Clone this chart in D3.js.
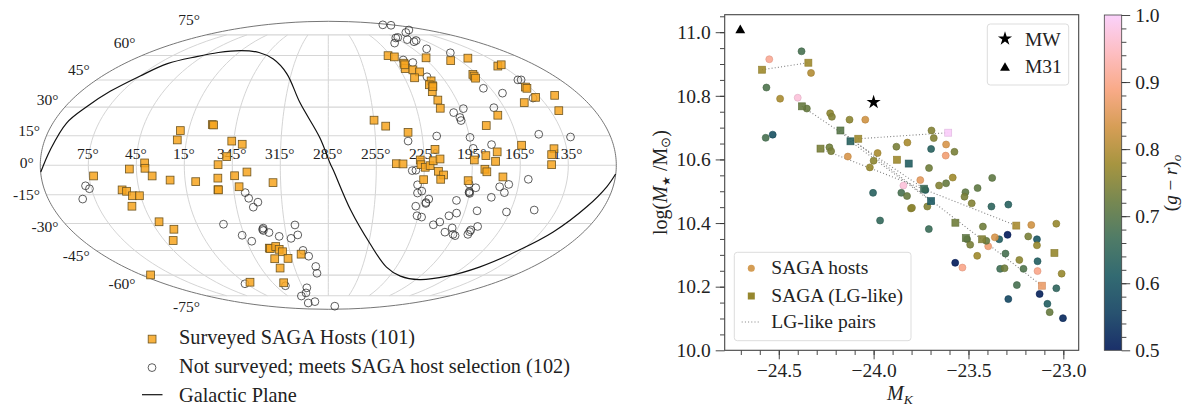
<!DOCTYPE html>
<html>
<head>
<meta charset="utf-8">
<script src="https://cdn.jsdelivr.net/npm/d3@7"></script>
<style>
  html, body { margin: 0; padding: 0; background: #fff; }
  text { font-family: "Liberation Serif", serif; fill: #222; }
</style>
</head>
<body>
<svg id="chart" width="1200" height="417"></svg>
<script>
/* ============================
   DATA: SKY MAP (degrees)
============================ */
const surveyedRA = [72.1,49.4,39.8,39.6,35.4,24.4,8.4,20.3,20.9,0.6,359.7,346.2,339.4,348.6,353.9,354.3,343.7,335.9,319.8,341.4,355,354.7,55.8,53.2,50.2,45.8,53,40,32.7,38.7,96.3,330.1,329.4,324.8,322.8,320.8,329,318,306.6,328,333.2,8.8,
  227.4,222.3,218,220.1,214.4,210.1,217.1,193.2,173.6,154.4,168.5,168.9,169.4,138.8,134.1,205.7,208.8,206.7,209.4,208.2,208.8,138.2,138.1,138,149,123.1,129.3,172,182.3,254.9,247.7,233.8,217.9,163,143,145,145.4,179,186.3,193.7,180.4,242.5,238.3,227.5,227.1,224.4,221.4,219.4,215.1,216.1,212.8,214.4,225.1,197.1,187.1,185.8,175.5,218.3,207];
const surveyedDec = [-5.4,-1.9,1.2,-1.5,-5.4,-7.5,-8.3,17.7,12.9,20.8,20.6,12.3,10.7,4.4,0.3,-6.5,-5.3,-3.4,-8.8,-10.9,-12.4,-12.5,-12.5,-13.2,-15.5,-15.5,-20.9,-29.1,-33.1,-39.3,-59.9,-43.6,-43.8,-42.7,-44.3,-45.7,-49.8,-49.6,-47.1,-55.5,-65.2,-64.8,
  59.9,59.1,55.1,51.8,51,49.8,46.3,58.5,56.7,58.3,48.3,47.3,46.1,53.3,54.1,44.5,42.3,41.7,38.4,33.8,29.4,41,40.3,35.3,32.4,36.4,28.1,25.7,20.3,23.1,20,16.8,8.1,10.2,8.4,5.4,0.3,6.8,4.9,2.7,2,0.8,0.7,2.7,0.3,-1,-0.2,2.3,3.2,-3,-4.9,-7.1,-7.3,-7.8,-2,-3.3,-5.9,54.1,41.2];

const otherRA = [78.3,76.3,82.9,337.9,336.1,330.5,334,356.8,346.6,341.3,330.2,330.5,326.9,320.3,307.9,306.8,312,304.6,300.8,296,295.7,16.6,333.9,310.5,315.1,325.1,327.8,311,265.4,
  130.3,117,138,159.5,190.5,194.6,206.6,183.8,175,180.6,180.5,162.8,216.4,209.6,206.8,137.8,135.3,170.3,159.2,140.3,193.2,200.8,197.8,197.7,172.1,150.3,130.6,215.8,234.4,194.7,181.9,193.8,232.5,230.2,228.7,225.6,228.2,191.7,195.4,195.3,194.9,176.7,171.2,172.9,180.5,159.4,202.4,220.4,221.8,221.8,228,
  200,204.5,187,167.3,149.6,225.8,222.5,212.9,209.2,199,202.7,196.2,194.2,181.9,185.3,185.5,185.6,196.2,330.9];
const otherDec = [-10.4,-11.9,-17.2,-13.9,-16.8,-18.8,-21.4,-30.4,-36.4,-39.7,-32.5,-33.8,-34.9,-37,-30.8,-36.2,-38.1,-44.9,-48.3,-54.5,-58.8,-65.9,-67.3,-68.8,-72.7,-75.2,-81.5,-80.2,-85,
  84.5,84,79.2,77,72.9,72.5,68.6,71.2,70.5,69.6,64.5,61.8,57.1,55.5,46.9,45.1,45.1,40.3,37.6,34.9,29.2,27.1,24.5,22.9,29.7,15.8,14.4,14.9,12.3,14.2,10.5,8.6,-2.7,-2.5,-9.9,-13.1,-14.1,-11.4,-13.9,-13.4,-14.3,-10.9,-9.7,-13.9,-16.3,-7.1,-17.9,-17.2,-19,-19.5,-20.9,
  -24.5,-25.9,-23.3,-23.9,-22.9,-25.9,-26.6,-30.7,-29.2,-32.4,-34.7,-35.9,-36.6,-31.6,-33.5,-34.4,-35.9,-9.5,-33.2];

const planeRA = [104.9,99.8,96.1,90.3,83.9,74.9,66.9,50.4,35.5,15.5,354.7,335.9,318.7,304.6,290.3,283.9,281.9,270.3,254,233.6,214.4,191.4,168.4,151.5,137.4,126.4,116.3,109,105.1];
const planeDec = [-3.4,7.8,21.6,30.2,38.6,47.4,54.8,59.3,62,63.3,62,57.7,48.8,32.3,13.9,1,-2.4,-22.9,-41,-54.9,-60.7,-63,-60.7,-54.9,-44.7,-34.6,-21.2,-10.9,-4.4];

const raTicks = [75,45,15,345,315,285,255,225,195,165,135];
const decTicks = [75,60,45,30,15,0,-15,-30,-45,-60,-75];
const gridLon = [-150,-120,-90,-60,-30,0,30,60,90,120,150];

/* ============================
   DATA: MASS PANEL
============================ */
const hostMK = [-24.55,-24.38,-24.33,-24.565,-24.493,-24.40,-24.352,-24.229,-24.22,-24.127,-24.044,-24.569,-24.532,-24.233,-24.224,-24.136,-23.979,-24.0,-24.02,-24.003,
  -23.695,-23.683,-23.88,-23.822,-23.697,-23.618,-23.574,-23.62,-23.708,-23.754,-23.843,-23.583,-23.655,-23.618,-23.375,-23.452,-23.854,-23.824,-23.727,-23.516,-23.521,
  -23.803,-23.798,-23.717,-23.483,-23.379,-23.29,-23.037,-23.169,-23.424,-23.966,-23.709,-23.185,-23.139,-23.139,-23.294,-23.338,-23.361,-23.396,-23.406,-23.507,-23.491,-23.454,-23.305,-23.232,-23.136,-23.57,-23.532,-23.333,-23.31,-23.21,-23.136,-23.009,-23.245,-23.125,-23.037,-23.29,-23.084,-23.072,-23.002];
const hostMass = [10.915,10.94,10.872,10.826,10.791,10.794,10.76,10.745,10.734,10.725,10.725,10.668,10.678,10.638,10.626,10.609,10.62,10.596,10.575,10.495,
  10.691,10.667,10.64,10.653,10.633,10.647,10.624,10.612,10.573,10.535,10.518,10.543,10.518,10.525,10.542,10.51,10.495,10.485,10.504,10.497,10.483,
  10.446,10.448,10.452,10.462,10.452,10.458,10.398,10.394,10.389,10.408,10.381,10.358,10.349,10.33,10.363,10.349,10.355,10.327,10.344,10.349,10.332,10.297,10.304,10.284,10.28,10.275,10.26,10.256,10.258,10.256,10.249,10.241,10.205,10.177,10.195,10.161,10.146,10.12,10.101];
const hostColor = [0.91,0.68,0.8,0.69,0.79,0.97,0.72,0.76,0.75,0.76,0.83,0.68,0.59,0.73,0.74,0.84,0.79,0.76,0.77,0.63,
  0.75,0.75,0.74,0.79,0.63,0.84,0.74,0.88,0.73,0.86,0.97,0.78,0.75,0.72,0.71,0.71,0.68,0.72,0.62,0.71,0.74,
  0.76,0.76,0.75,0.75,0.64,0.63,0.77,0.83,0.73,0.65,0.66,0.74,0.6,0.77,0.5,0.62,0.84,0.88,0.72,0.71,0.74,0.78,0.68,0.76,0.62,0.5,0.9,0.67,0.73,0.69,0.9,0.77,0.68,0.51,0.64,0.57,0.62,0.72,0.52];

const lgMK = [-24.588,-24.344,-24.378,-24.175,-24.122,-24.081,-24.28,-23.607,-23.877,-23.815,-23.734,-23.697,-23.569,-23.514,-23.428,-23.248,-23.047,-23.113];
const lgMass = [10.882,10.904,10.767,10.691,10.657,10.665,10.634,10.684,10.599,10.587,10.508,10.469,10.401,10.353,10.349,10.392,10.306,10.203];
const lgColor = [0.78,0.78,0.72,0.7,0.63,0.78,0.74,1.0,0.78,0.62,0.66,0.61,0.73,0.71,0.75,0.79,0.77,0.87];
// indexes into the lg arrays, drawn as dotted pairs
const pairFrom = [0,2,3,4,5,6];
const pairTo = [1,10,17,11,7,15];

const refMK = [-24.0,-24.703];
const refMass = [10.78,11.006];
const refNames = ["MW","M31"];

const batlowStops = ["#011959","#103F60","#1C5A62","#3C6D56","#687B3E","#9D892B","#D29343","#F8A17B","#FDB7BC","#FACCFA"];

const svg = d3.select("#chart");

/* ============================
   MOLLWEIDE MAP
============================ */
function mollTheta(latDeg) {
  const phi = latDeg * Math.PI / 180;
  if (Math.abs(latDeg) >= 90) return Math.sign(latDeg) * Math.PI / 2;
  let t = phi;
  for (let i = 0; i < 40; i++) {
    t -= (2 * t + Math.sin(2 * t) - Math.PI * Math.sin(phi)) / (2 + 2 * Math.cos(2 * t));
  }
  return t;
}
const mapX = d3.scaleLinear().domain([-1, 1]).range([40.3, 616.3]);
const mapY = d3.scaleLinear().domain([-1, 1]).range([309.3, 21.3]);

const projLon = (l, lat) => mapX((l / 180) * Math.cos(mollTheta(lat)));
const projLat = lat => mapY(Math.sin(mollTheta(lat)));
const raOffset = ra => ((285 - ra + 540) % 360) - 180;
const projRA = (ra, dec) => projLon(raOffset(ra), dec);

const map = svg.append("g");

const gridLine = d3.line().x(d => d[0]).y(d => d[1]);

// meridians stop at +-75, as in the figure
const capLat = d3.range(-75, 75.1, 2.5);
map.selectAll(".meridian").data(gridLon).join("path")
  .attr("class", "meridian")
  .attr("fill", "none").attr("stroke", "#cfcfcf").attr("stroke-width", 0.9)
  .attr("d", l => gridLine(capLat.map(lat => [projLon(l, lat), projLat(lat)])));

map.selectAll(".parallel").data(decTicks).join("line")
  .attr("class", "parallel")
  .attr("x1", d => projLon(-180, d)).attr("x2", d => projLon(180, d))
  .attr("y1", d => projLat(d)).attr("y2", d => projLat(d))
  .attr("stroke", "#d6d6d6").attr("stroke-width", 1.1);

// outline
const allLat = d3.range(-90, 90.1, 1);
map.append("path")
  .attr("fill", "none").attr("stroke", "#666").attr("stroke-width", 0.9)
  .attr("d", gridLine(allLat.map(lat => [projLon(-180, lat), projLat(lat)])
    .concat(allLat.slice().reverse().map(lat => [projLon(180, lat), projLat(lat)]))) + "Z");

// tick labels
map.selectAll(".raLabel").data(raTicks).join("text")
  .attr("class", "raLabel")
  .attr("x", d => projLon(raOffset(d), 0) - 0.5)
  .attr("y", 158.5)
  .attr("text-anchor", "middle")
  .attr("font-size", 15.5)
  .text(d => d + "°");

map.selectAll(".decLabel").data(decTicks).join("text")
  .attr("class", "decLabel")
  .attr("x", d => projLon(-180, d) - 6.5)
  .attr("y", d => projLat(d) - 2 - 0.175 * d + 5)
  .attr("text-anchor", "end")
  .attr("font-size", 15.5)
  .text(d => d + "°");

// galactic plane
const planeLine = d3.line().curve(d3.curveCatmullRom.alpha(0.5))
  .x((d, i) => projRA(planeRA[i], d))
  .y(d => projLat(d));
map.append("path").datum(planeDec)
  .attr("fill", "none").attr("stroke", "#111").attr("stroke-width", 1.2)
  .attr("d", planeLine);

// hosts
map.selectAll(".other").data(otherRA).join("circle")
  .attr("class", "other")
  .attr("cx", (d, i) => projRA(d, otherDec[i]))
  .attr("cy", (d, i) => projLat(otherDec[i]))
  .attr("r", 3.9)
  .attr("fill", "none").attr("stroke", "#2a2a2a").attr("stroke-width", 0.75);

map.selectAll(".surveyed").data(surveyedRA).join("rect")
  .attr("class", "surveyed")
  .attr("x", (d, i) => projRA(d, surveyedDec[i]) - 3.9)
  .attr("y", (d, i) => projLat(surveyedDec[i]) - 3.9)
  .attr("width", 7.8).attr("height", 7.8)
  .attr("fill", "#f7a51e").attr("fill-opacity", 0.85)
  .attr("stroke", "#6e5520").attr("stroke-width", 0.8);

// map legend
const mapLegend = svg.append("g");
mapLegend.append("rect")
  .attr("x", 148.2).attr("y", 335.2).attr("width", 7.8).attr("height", 7.8)
  .attr("fill", "#f7a51e").attr("fill-opacity", 0.85)
  .attr("stroke", "#6e5520").attr("stroke-width", 0.8);
mapLegend.append("circle")
  .attr("cx", 152).attr("cy", 367.6).attr("r", 3.9)
  .attr("fill", "none").attr("stroke", "#2a2a2a").attr("stroke-width", 0.75);
mapLegend.append("line")
  .attr("x1", 142).attr("x2", 162.5).attr("y1", 394.7).attr("y2", 394.7)
  .attr("stroke", "#111").attr("stroke-width", 1.2);
mapLegend.selectAll("text")
  .data(["Surveyed SAGA Hosts (101)", "Not surveyed; meets SAGA host selection (102)", "Galactic Plane"])
  .join("text")
  .attr("x", 179)
  .attr("y", (d, i) => [344, 372.7, 401.7][i])
  .attr("font-size", 20.3)
  .text(d => d);

/* ============================
   MASS PANEL
============================ */
const x = d3.scaleLinear().domain([-24.785, -22.919]).range([724.7, 1078.7]);
const y = d3.scaleLinear().domain([10, 11.055]).range([350.3, 14.7]);
const colorT = d3.scaleLinear().domain([0.5, 1]).range([0, 1]);
const batlow = d3.scaleLinear()
  .domain(batlowStops.map((c, i) => i / (batlowStops.length - 1)))
  .range(batlowStops)
  .interpolate(d3.interpolateRgb);
const color = v => batlow(colorT(v));
const edge = v => d3.color(color(v)).darker(0.35).formatHex();

const panel = svg.append("g");

const axisStyle = g => {
  g.select(".domain").remove();
  g.selectAll("line").attr("stroke", "#333").attr("stroke-width", 0.9);
  g.selectAll("text").attr("font-size", 19.5).attr("font-family", '"Liberation Serif", serif').attr("fill", "#222");
};

panel.append("g").attr("transform", "translate(0,350.3)")
  .call(d3.axisBottom(x).tickValues(d3.range(-24.7, -22.95, 0.1)).tickSize(4.7).tickFormat(""))
  .call(axisStyle);
panel.append("g").attr("transform", "translate(0,350.3)")
  .call(d3.axisBottom(x).tickValues([-24.5, -24, -23.5, -23]).tickSize(9).tickPadding(4).tickFormat(d3.format(".1f")))
  .call(axisStyle);
panel.append("g").attr("transform", "translate(724.7,0)")
  .call(d3.axisLeft(y).tickValues(d3.range(10.05, 11.06, 0.05)).tickSize(4.7).tickFormat(""))
  .call(axisStyle);
panel.append("g").attr("transform", "translate(724.7,0)")
  .call(d3.axisLeft(y).tickValues([10, 10.2, 10.4, 10.6, 10.8, 11]).tickSize(9).tickPadding(5).tickFormat(d3.format(".1f")))
  .call(axisStyle);

panel.append("rect")
  .attr("x", 724.7).attr("y", 14.7).attr("width", 354).attr("height", 335.6)
  .attr("fill", "none").attr("stroke", "#444").attr("stroke-width", 1.1);

// pairs go under the markers
panel.selectAll(".pair").data(pairFrom).join("line")
  .attr("class", "pair")
  .attr("x1", d => x(lgMK[d])).attr("y1", d => y(lgMass[d]))
  .attr("x2", (d, i) => x(lgMK[pairTo[i]])).attr("y2", (d, i) => y(lgMass[pairTo[i]]))
  .attr("stroke", "#808080").attr("stroke-width", 1.1).attr("stroke-dasharray", "1 2.2");

panel.selectAll(".host").data(hostMK).join("circle")
  .attr("class", "host")
  .attr("cx", d => x(d))
  .attr("cy", (d, i) => y(hostMass[i]))
  .attr("r", 3.5)
  .attr("fill", (d, i) => color(hostColor[i]))
  .attr("fill-opacity", 0.9)
  .attr("stroke", (d, i) => edge(hostColor[i]))
  .attr("stroke-opacity", 0.85)
  .attr("stroke-width", 0.7);

panel.selectAll(".lg").data(lgMK).join("rect")
  .attr("class", "lg")
  .attr("x", d => x(d) - 3.5)
  .attr("y", (d, i) => y(lgMass[i]) - 3.5)
  .attr("width", 7).attr("height", 7)
  .attr("fill", (d, i) => color(lgColor[i]))
  .attr("fill-opacity", 0.9)
  .attr("stroke", (d, i) => edge(lgColor[i]))
  .attr("stroke-opacity", 0.85)
  .attr("stroke-width", 0.7);

const refSymbols = [d3.symbolStar, d3.symbolTriangle];
panel.selectAll(".ref").data(refMK).join("path")
  .attr("class", "ref")
  .attr("transform", (d, i) => `translate(${x(d)},${y(refMass[i])})`)
  .attr("d", (d, i) => d3.symbol(refSymbols[i], i === 0 ? 62 : 42)())
  .attr("fill", "#000");

// legends
const legendBox = (g, bx, by, bw, bh) => g.append("rect")
  .attr("x", bx).attr("y", by).attr("width", bw).attr("height", bh).attr("rx", 3)
  .attr("fill", "#fff").attr("fill-opacity", 0.8).attr("stroke", "#ddd").attr("stroke-width", 1);

const refLegend = panel.append("g");
legendBox(refLegend, 987.3, 24, 81.4, 61);
refLegend.selectAll("path").data(refNames).join("path")
  .attr("transform", (d, i) => `translate(1005,${[38.7, 68][i]})`)
  .attr("d", (d, i) => d3.symbol(refSymbols[i], i === 0 ? 62 : 42)())
  .attr("fill", "#000");
refLegend.selectAll("text").data(refNames).join("text")
  .attr("x", 1025)
  .attr("y", (d, i) => [45.7, 73.3][i])
  .attr("font-size", 19.5)
  .text(d => d);

const sampleLegend = panel.append("g");
legendBox(sampleLegend, 734.3, 252.3, 176.7, 88.4);
sampleLegend.append("circle")
  .attr("cx", 751.3).attr("cy", 268.3).attr("r", 3.5).attr("fill", color(0.83)).attr("fill-opacity", 0.9);
sampleLegend.append("rect")
  .attr("x", 747.8).attr("y", 292.5).attr("width", 7).attr("height", 7).attr("fill", color(0.77));
sampleLegend.append("line")
  .attr("x1", 741.7).attr("x2", 760).attr("y1", 322).attr("y2", 322)
  .attr("stroke", "#808080").attr("stroke-width", 1.1).attr("stroke-dasharray", "1 2.2");
sampleLegend.selectAll("text")
  .data(["SAGA hosts", "SAGA (LG-like)", "LG-like pairs"])
  .join("text")
  .attr("x", 771.3)
  .attr("y", (d, i) => [274, 301.7, 328.3][i])
  .attr("font-size", 19.5)
  .text(d => d);

// axis labels
const xLabel = panel.append("text")
  .attr("x", 887).attr("y", 400)
  .attr("font-size", 20).attr("font-style", "italic");
xLabel.append("tspan").text("M");
xLabel.append("tspan").attr("dy", 4).attr("font-size", 13.5).text("K");

const yLabel = panel.append("text")
  .attr("transform", "translate(667,182.5) rotate(-90)")
  .attr("text-anchor", "middle")
  .attr("font-size", 20);
yLabel.append("tspan").text("log(");
yLabel.append("tspan").attr("font-style", "italic").text("M");
yLabel.append("tspan").attr("dy", 3).attr("font-size", 11).text("★");
yLabel.append("tspan").attr("dy", -3).text(" /M");
yLabel.append("tspan").attr("dy", 3).attr("font-size", 13).text("⊙");
yLabel.append("tspan").attr("dy", -3).text(")");

/* ============================
   COLOURBAR
============================ */
const cy = d3.scaleLinear().domain([0.5, 1]).range([350.3, 15]);
const defs = svg.append("defs");
const grad = defs.append("linearGradient").attr("id", "batlowBar")
  .attr("x1", 0).attr("x2", 0).attr("y1", 1).attr("y2", 0);
grad.selectAll("stop").data(batlowStops).join("stop")
  .attr("offset", (d, i) => i / (batlowStops.length - 1))
  .attr("stop-color", d => d)
  .attr("stop-opacity", 0.9);

const bar = svg.append("g");
bar.append("rect")
  .attr("x", 1104.3).attr("y", 15).attr("width", 17.4).attr("height", 335.3)
  .attr("fill", "url(#batlowBar)")
  .attr("stroke", "#444").attr("stroke-width", 0.8);
bar.append("g").attr("transform", "translate(1121.7,0)")
  .call(d3.axisRight(cy).tickValues(d3.range(0.52, 1, 0.02)).tickSize(4.7).tickFormat(""))
  .call(axisStyle);
bar.append("g").attr("transform", "translate(1121.7,0)")
  .call(d3.axisRight(cy).tickValues([0.5, 0.6, 0.7, 0.8, 0.9, 1]).tickSize(8.5).tickPadding(5).tickFormat(d3.format(".1f")))
  .call(axisStyle);

const barLabel = bar.append("text")
  .attr("transform", "translate(1177,183) rotate(-90)")
  .attr("text-anchor", "middle")
  .attr("font-size", 19);
barLabel.append("tspan").text("(");
barLabel.append("tspan").attr("font-style", "italic").text("g");
barLabel.append("tspan").text(" − ");
barLabel.append("tspan").attr("font-style", "italic").text("r");
barLabel.append("tspan").text(")");
barLabel.append("tspan").attr("dy", 4).attr("font-size", 13).attr("font-style", "italic").text("o");
</script>
</body>
</html>
